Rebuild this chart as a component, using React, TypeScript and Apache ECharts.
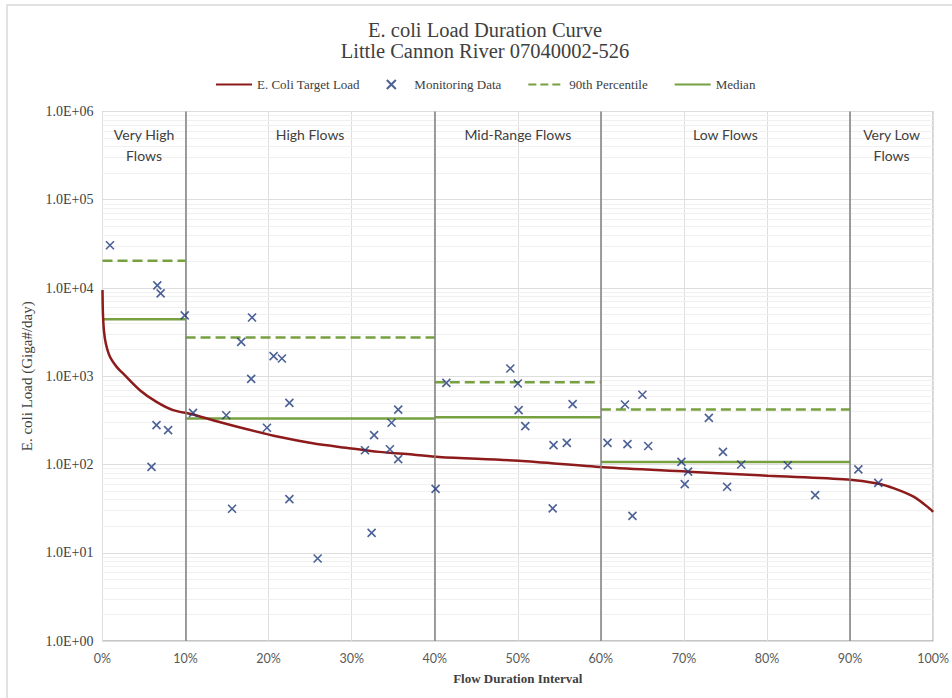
import React, { useEffect, useRef } from "react";
import * as echarts from "echarts";

// Flow duration interval (%) and E. coli target load (Giga#/day)
const targetX = [0, 0.05, 0.17, 0.4, 0.9, 1.7, 2.5, 4.5, 6.5, 8.5, 10.9, 13.3, 17.3, 21.2, 25.3, 29.3, 33.3, 37.3, 40.5, 50.1, 60.3, 70.5, 80.1, 89.7, 93.3, 95.3, 97.7, 99.7, 100];
const targetY = [9500, 5200, 3320, 2350, 1660, 1277, 1070, 695, 512, 413, 369, 317, 252, 206, 174, 155, 139, 130, 122, 110, 93, 83, 74.5, 67.7, 61, 53.7, 43, 31, 29];

// Monitoring data
const monX = [0.9, 6.6, 7.0, 9.9, 6.5, 7.9, 5.9, 10.9, 18.0, 16.7, 20.6, 21.6, 17.9, 22.5, 14.9, 19.8, 35.6, 34.8, 32.7, 31.6, 34.6, 35.6, 40.1, 15.6, 22.5, 32.4, 25.9, 49.1, 41.4, 50.0, 50.1, 56.6, 50.9, 54.3, 55.9, 54.2, 62.9, 65.0, 73.0, 60.8, 63.2, 65.7, 69.7, 70.5, 70.1, 74.7, 75.2, 76.9, 82.5, 85.8, 91.0, 93.4, 63.8];
const monY = [30500, 10700, 8700, 4900, 279, 245, 94, 385, 4630, 2450, 1690, 1590, 935, 500, 362, 261, 418, 297, 215, 145, 149, 115, 53, 31.5, 40.5, 16.8, 8.6, 1225, 841, 828, 413, 483, 272, 166, 176, 31.8, 479, 618, 337, 176, 170, 162, 107, 83, 60, 139, 56, 100, 98, 45, 88, 62, 26.2];

// Flow zones
const zoneBounds = [0, 10, 40, 60, 90, 100];
const zoneNames = ["Very High\nFlows", "High Flows", "Mid-Range Flows", "Low Flows", "Very Low\nFlows"];
const p90 = [20300, 2750, 857, 421];
const median = [4430, 333, 342, 107];

// Axis ticks
const xTicks = [0, 10, 20, 30, 40, 50, 60, 70, 80, 90, 100];
const yMin = 1;
const yMax = 1e6;

const RED = "#8e1b1b";
const GREEN = "#77a040";
const BLUE = "#1f3a7a";
const SERIF = "'Liberation Serif', 'DejaVu Serif', serif";
const SANS = "Lato, 'Open Sans', sans-serif";

export default function App() {
  const ref = useRef<HTMLDivElement>(null);
  useEffect(() => {
    if (!ref.current) return;
    const chart = echarts.init(ref.current, null, { renderer: "svg" });

    const minorLines: any[] = [];
    for (let d = 0; d < 6; d++) {
      for (let k = 2; k <= 9; k++) minorLines.push({ yAxis: k * Math.pow(10, d) });
    }

    const segSeries = (name: string, vals: number[], type: string) =>
      vals.map((v, i) => ({
        name,
        type: "line",
        data: [
          [zoneBounds[i], v],
          [zoneBounds[i + 1], v],
        ],
        symbol: "none",
        lineStyle: { color: GREEN, width: 2.5, type },
        itemStyle: { color: GREEN },
        z: 3,
      }));

    const option: any = {
      animation: false,
      backgroundColor: "#fff",
      graphic: [
        {
          type: "rect",
          shape: { x: 7, y: 5, width: 1100, height: 1000 },
          style: { fill: "none", stroke: "#d9d9d9", lineWidth: 1.5 },
          silent: true,
          z: -10,
        },
      ],
      title: {
        text: "E. coli Load Duration Curve\nLittle Cannon River 07040002-526",
        left: 480,
        textAlign: "center",
        top: 14,
        textStyle: {
          fontFamily: SERIF,
          fontSize: 20.5,
          fontWeight: "normal",
          color: "#404040",
          lineHeight: 21.5,
        },
      },
      legend: {
        top: 73,
        left: 210,
        itemGap: 26,
        itemWidth: 36,
        itemHeight: 9,
        textStyle: { fontFamily: SERIF, fontSize: 13, color: "#404040" },
        data: [
          { name: "E. Coli Target Load", itemStyle: { opacity: 0 } },
          { name: "Monitoring Data" },
          { name: "90th Percentile", itemStyle: { opacity: 0 } },
          { name: "Median", itemStyle: { opacity: 0 } },
        ],
      },
      grid: {
        left: 102.5,
        right: 16.5,
        top: 111.5,
        bottom: 57,
        show: true,
        borderColor: "#8c8c8c",
        borderWidth: 1,
      },
      xAxis: {
        type: "value",
        min: xTicks[0],
        max: xTicks[xTicks.length - 1],
        interval: 10,
        name: "Flow Duration Interval",
        nameLocation: "middle",
        nameGap: 31,
        nameTextStyle: { fontFamily: SERIF, fontSize: 13, color: "#404040", fontWeight: "bold" },
        axisLine: { show: false },
        axisTick: { show: false },
        axisLabel: {
          formatter: "{value}%",
          fontFamily: SANS,
          fontSize: 12.5,
          color: "#595959",
          margin: 11,
        },
        splitLine: { show: true, lineStyle: { color: "#dedede", width: 1 } },
      },
      yAxis: {
        type: "log",
        logBase: 10,
        min: yMin,
        max: yMax,
        name: "E. coli Load (Giga#/day)",
        nameLocation: "middle",
        nameGap: 65,
        nameTextStyle: { fontFamily: SERIF, fontSize: 15, color: "#404040" },
        axisLine: { show: false },
        axisTick: { show: false },
        axisLabel: {
          formatter: (v: number) => {
            const e = Math.round(Math.log10(v));
            return "1.0E+" + String(e).padStart(2, "0");
          },
          fontFamily: SERIF,
          fontSize: 14,
          color: "#404040",
          margin: 9,
        },
        splitLine: { show: true, lineStyle: { color: "#dedede", width: 1 } },
      },
      series: [
        {
          name: "E. Coli Target Load",
          type: "line",
          data: targetX.map((x, i) => [x, targetY[i]]),
          symbol: "none",
          smooth: 0.3,
          lineStyle: { color: RED, width: 2.5 },
          itemStyle: { color: RED },
          z: 4,
          markLine: {
            silent: true,
            symbol: "none",
            label: { show: false },
            emphasis: { disabled: true },
            lineStyle: { color: "#f0f0f0", width: 1, type: "solid" },
            data: minorLines,
            z: 0,
          },
        },
        {
          name: "Monitoring Data",
          type: "scatter",
          data: monX.map((x, i) => [x, monY[i]]),
          symbol: "path://M0,0L10,10M10,0L0,10",
          symbolSize: 8,
          itemStyle: { color: "transparent", borderColor: BLUE, borderWidth: 1.6 },
          z: 5,
          markLine: {
            silent: true,
            symbol: "none",
            label: { show: false },
            emphasis: { disabled: true },
            lineStyle: { color: "#7f7f7f", width: 1.5, type: "solid" },
            data: zoneBounds.slice(1, -1).map((b) => ({ xAxis: b })),
          },
          markArea: {
            silent: true,
            itemStyle: { color: "transparent" },
            label: {
              show: true,
              position: "insideTop",
              distance: 12,
              fontFamily: SANS,
              fontSize: 14,
              color: "#404040",
              lineHeight: 21,
            },
            emphasis: { disabled: true },
            data: zoneNames.map((n, i) => [
              { name: n, xAxis: zoneBounds[i] },
              { xAxis: zoneBounds[i + 1] },
            ]),
          },
        },
        ...segSeries("90th Percentile", p90, "dashed"),
        ...segSeries("Median", median, "solid"),
      ],
    };
    chart.setOption(option);
    return () => chart.dispose();
  }, []);
  return (
    <div
      ref={ref}
      style={{ position: "fixed", left: 0, top: 0, width: 952, height: 698, background: "#fff" }}
    />
  );
}
